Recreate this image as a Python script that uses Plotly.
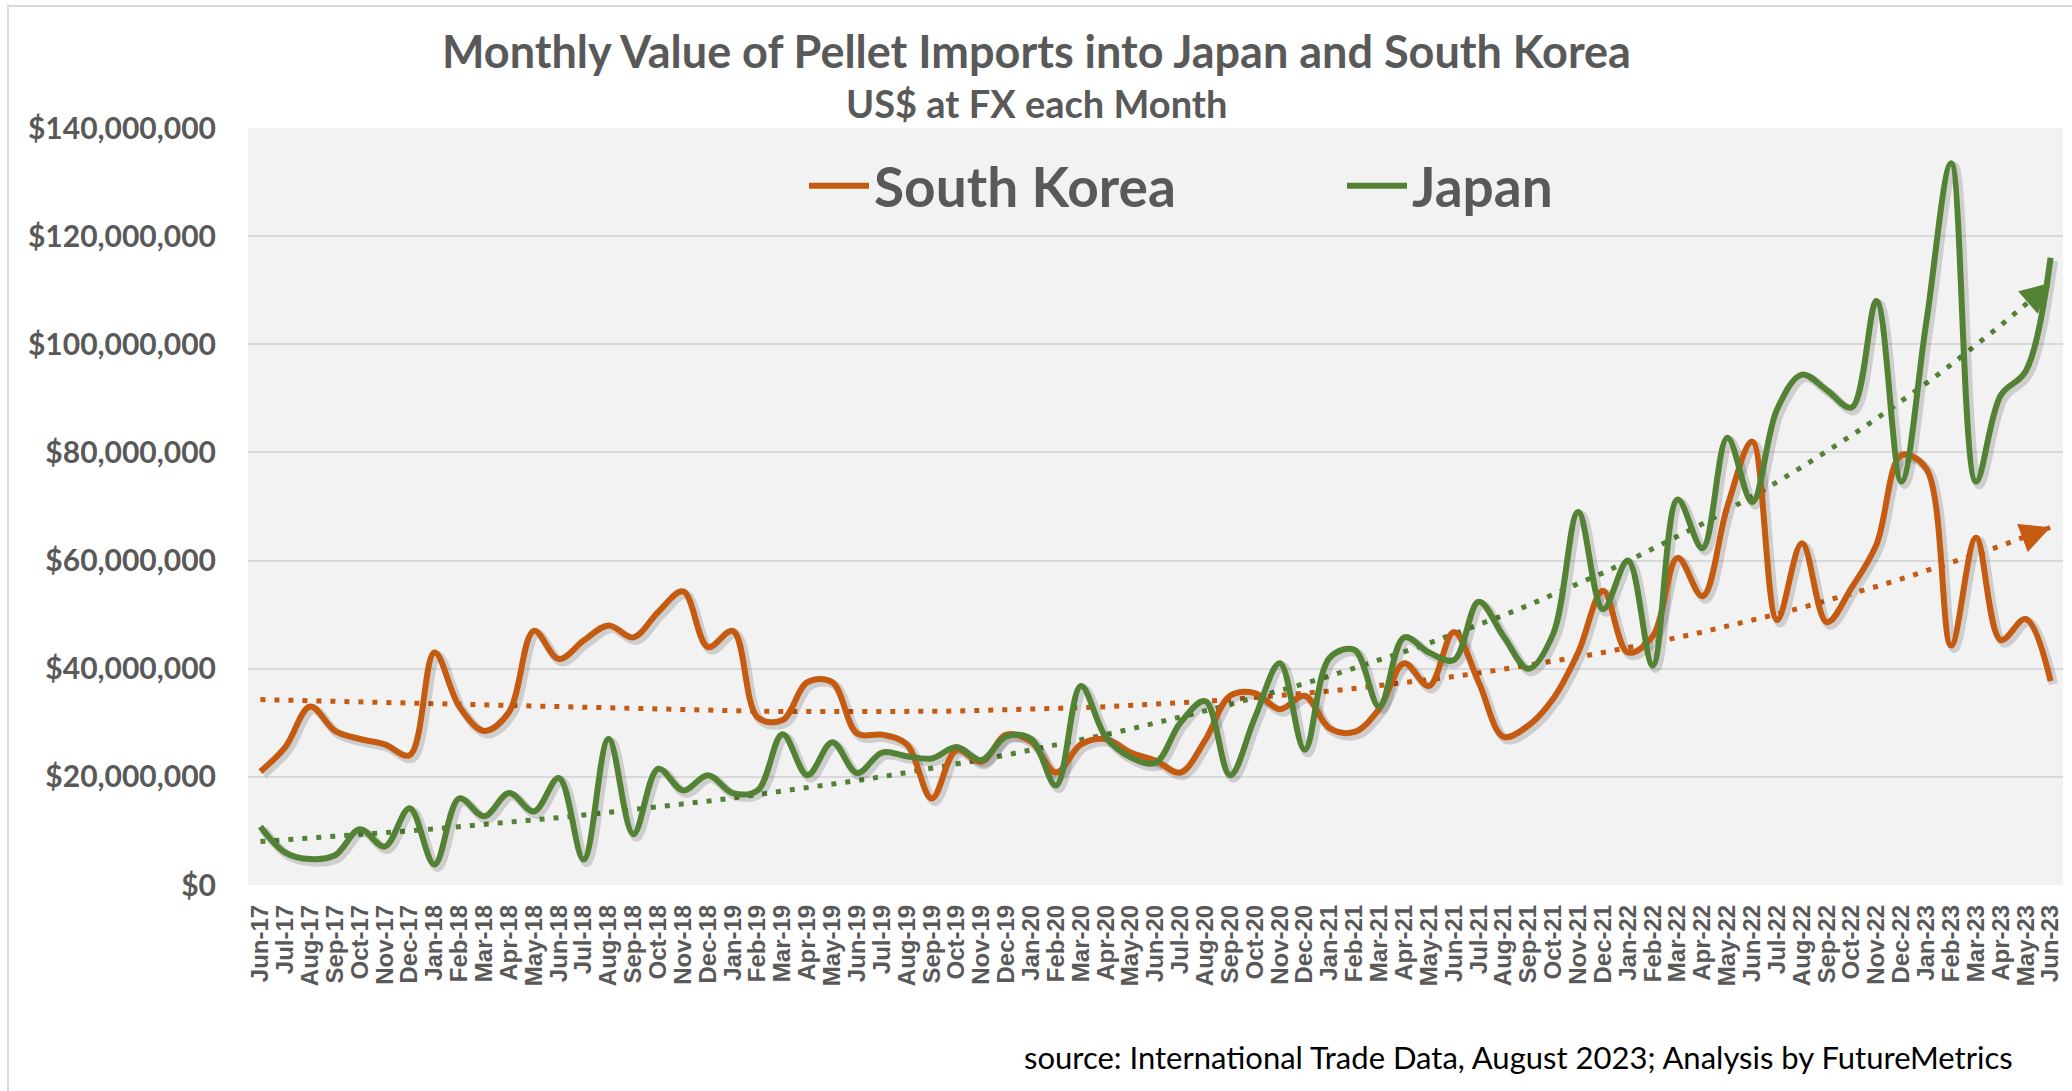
import numpy as np
import plotly.graph_objects as go

months = [
    "Jun-17", "Jul-17", "Aug-17", "Sep-17", "Oct-17", "Nov-17", "Dec-17",
    "Jan-18", "Feb-18", "Mar-18", "Apr-18", "May-18", "Jun-18", "Jul-18", "Aug-18", "Sep-18", "Oct-18", "Nov-18", "Dec-18",
    "Jan-19", "Feb-19", "Mar-19", "Apr-19", "May-19", "Jun-19", "Jul-19", "Aug-19", "Sep-19", "Oct-19", "Nov-19", "Dec-19",
    "Jan-20", "Feb-20", "Mar-20", "Apr-20", "May-20", "Jun-20", "Jul-20", "Aug-20", "Sep-20", "Oct-20", "Nov-20", "Dec-20",
    "Jan-21", "Feb-21", "Mar-21", "Apr-21", "May-21", "Jun-21", "Jul-21", "Aug-21", "Sep-21", "Oct-21", "Nov-21", "Dec-21",
    "Jan-22", "Feb-22", "Mar-22", "Apr-22", "May-22", "Jun-22", "Jul-22", "Aug-22", "Sep-22", "Oct-22", "Nov-22", "Dec-22",
    "Jan-23", "Feb-23", "Mar-23", "Apr-23", "May-23", "Jun-23",
]

# US$ millions
south_korea_m = [
    21.0, 25.5, 33.0, 28.5, 27.0, 26.0, 24.0,
    43.0, 33.0, 28.5, 32.0, 47.0, 41.8, 45.2, 48.0, 45.8, 50.5, 54.3, 44.0,
    47.0, 31.0, 30.5, 37.5, 37.5, 28.0, 27.8, 26.0, 16.0, 25.0, 22.8, 27.8,
    26.5, 20.8, 26.0, 27.0, 24.5, 23.0, 20.8, 26.8, 35.0, 35.5, 32.5, 35.0,
    29.0, 28.3, 32.6, 41.0, 36.8, 46.8, 37.5, 27.4, 29.5, 34.5, 43.0, 54.4,
    43.0, 46.0, 60.5, 53.4, 70.0, 82.0, 49.0, 63.2, 48.6, 55.0, 63.0, 79.5,
    77.0, 44.3, 64.2, 45.3, 49.2, 37.7,
]
japan_m = [
    10.8, 6.0, 4.8, 5.5, 10.3, 7.1, 14.2,
    3.8, 16.0, 12.7, 17.0, 13.6, 19.8, 4.7, 27.0, 9.4, 21.5, 17.5, 20.3,
    17.0, 17.5, 27.9, 20.3, 26.4, 20.7, 24.5, 23.8, 23.4, 25.5, 23.1, 27.5,
    27.0, 18.4, 36.8, 27.4, 23.6, 22.6, 30.0, 34.0, 20.3, 31.0, 41.0, 25.0,
    42.0, 43.5, 33.0, 45.8, 43.0, 41.6, 52.4, 46.0, 40.0, 46.5, 69.0, 51.0,
    60.0, 40.6, 71.3, 62.3, 82.7, 70.8, 88.0, 94.4, 91.5, 88.3, 108.0, 74.6,
    104.0, 133.5, 74.6, 90.6, 95.0, 116.0,
]

y_tickvals = [0, 20e6, 40e6, 60e6, 80e6, 100e6, 120e6, 140e6]

south_korea = [v * 1e6 for v in south_korea_m]
japan = [v * 1e6 for v in japan_m]

ORANGE = "#C55A11"
GREEN = "#548235"
TEXT = "#595959"
GRID = "#D9D9D9"

# trend lines: polynomial for South Korea, exponential for Japan
idx = np.arange(len(months))
sk_coef = np.polyfit(idx, south_korea, 3)
sk_trend = np.polyval(sk_coef, idx)
jp_coef = np.polyfit(idx, np.log(japan), 1)
jp_trend = np.exp(np.polyval(jp_coef, idx))

def sk_f(t):
    return float(np.polyval(sk_coef, t))

def jp_f(t):
    return float(np.exp(np.polyval(jp_coef, t)))

# layout geometry (pixels)
W, H = 2072, 1091
L, R, T, B = 248, 9, 128, 206
PW = W - L - R
PH = H - T - B
YMAX = 140e6
N = len(months)
XR = [-0.5, N - 0.5]

# shadow offset
S = 3
dx = S / PW
dy = S / PH

def px_x(px):
    return (px - L) / PW

def px_y(py):
    return (H - B - py) / PH

fig = go.Figure()

# trend lines on the visible axes
fig.add_trace(go.Scatter(
    x=months, y=sk_trend, mode="lines", xaxis="x", yaxis="y",
    line=dict(color=ORANGE, width=5, dash="5px,9px"), showlegend=False, hoverinfo="skip",
))
fig.add_trace(go.Scatter(
    x=months, y=jp_trend, mode="lines", xaxis="x", yaxis="y",
    line=dict(color=GREEN, width=5, dash="5px,9px"), showlegend=False, hoverinfo="skip",
))

# shadows (offset hidden axes)
for vals in (south_korea, japan):
    fig.add_trace(go.Scatter(
        x=months, y=vals, mode="lines", xaxis="x2", yaxis="y2",
        line=dict(color="rgba(0,0,0,0.15)", width=9, shape="spline", smoothing=1.0),
        showlegend=False, hoverinfo="skip",
    ))

fig.add_trace(go.Scatter(
    x=months, y=south_korea, mode="lines", name="South Korea", xaxis="x3", yaxis="y3",
    line=dict(color=ORANGE, width=6, shape="spline", smoothing=1.0),
))
fig.add_trace(go.Scatter(
    x=months, y=japan, mode="lines", name="Japan", xaxis="x3", yaxis="y3",
    line=dict(color=GREEN, width=6, shape="spline", smoothing=1.0),
))

# arrow heads at the ends of the trend lines
last = N - 1
for f, col in ((sk_f, ORANGE), (jp_f, GREEN)):
    fig.add_annotation(
        x=last, y=f(last), ax=last - 0.9, ay=f(last - 0.9),
        xref="x", yref="y", axref="x", ayref="y",
        text="", showarrow=True, arrowhead=2, arrowsize=1.5, arrowwidth=4, arrowcolor=col,
    )

# title, subtitle, source
fig.add_annotation(
    text="<b>Monthly Value of Pellet Imports into Japan and South Korea</b>",
    x=px_x(1036), y=px_y(51), xref="paper", yref="paper", showarrow=False,
    xanchor="center", yanchor="middle", font=dict(family="Lato", size=45, color=TEXT),
)
fig.add_annotation(
    text="<b>US$ at FX each Month</b>",
    x=px_x(1036), y=px_y(103), xref="paper", yref="paper", showarrow=False,
    xanchor="center", yanchor="middle", font=dict(family="Lato", size=38, color=TEXT),
)
fig.add_annotation(
    text="source: International Trade Data, August 2023; Analysis by FutureMetrics",
    x=px_x(2015), y=px_y(1057), xref="paper", yref="paper", showarrow=False,
    xanchor="right", yanchor="middle", font=dict(family="Lato", size=31, color="#000000"),
)

# plot-area fill and outer chart border
fig.add_shape(
    type="rect", xref="paper", yref="paper", x0=0, x1=1, y0=0, y1=1,
    line=dict(width=0), fillcolor="#F2F2F2", layer="below",
)
fig.add_shape(
    type="rect", xref="paper", yref="paper",
    x0=px_x(8), x1=px_x(W + 20), y0=px_y(H + 20), y1=px_y(6),
    line=dict(color=GRID, width=2), fillcolor="rgba(0,0,0,0)", layer="below",
)

fig.update_layout(
    width=W, height=H, autosize=False,
    margin=dict(l=L, r=R, t=T, b=B, pad=0),
    paper_bgcolor="#FFFFFF", plot_bgcolor="rgba(0,0,0,0)",
    showlegend=True,
    legend=dict(
        orientation="h", x=px_x(804), y=px_y(186), xanchor="left", yanchor="middle",
        font=dict(family="Lato", size=55, color=TEXT, weight="bold"),
        bgcolor="rgba(0,0,0,0)", itemwidth=60, entrywidth=463, tracegroupgap=0,
    ),
    xaxis=dict(
        type="category", range=XR, domain=[0, 1], showgrid=False, zeroline=False,
        showline=False, tickangle=-90, ticks="", ticklabelstandoff=14,
        tickmode="array", tickvals=months, ticktext=months,
        tickfont=dict(family="Liberation Sans", size=24, color=TEXT, weight="bold"),
        anchor="y",
    ),
    yaxis=dict(
        range=[0, YMAX], domain=[0, 1], tickvals=y_tickvals, tickformat="$,.0f",
        showgrid=True, gridcolor=GRID, gridwidth=2, zeroline=False, showline=False,
        ticks="", ticklabelstandoff=31, anchor="x",
        tickfont=dict(family="Lato", size=30, color=TEXT, weight="bold"),
    ),
    xaxis2=dict(type="category", domain=[dx, 1], range=[XR[0], XR[1] - N * dx],
                visible=False, anchor="y2", showgrid=False),
    yaxis2=dict(domain=[0, 1 - dy], range=[YMAX * dy, YMAX], visible=False,
                anchor="x2", showgrid=False),
    xaxis3=dict(type="category", domain=[0, 1], range=XR, visible=False,
                anchor="y3", showgrid=False),
    yaxis3=dict(domain=[0, 1], range=[0, YMAX], visible=False, anchor="x3", showgrid=False),
    hovermode=False,
)

fig.write_html("out.html", include_plotlyjs=True, config={"displayModeBar": False},
               post_script="document.body.style.margin='0';document.body.style.overflow='hidden';")
